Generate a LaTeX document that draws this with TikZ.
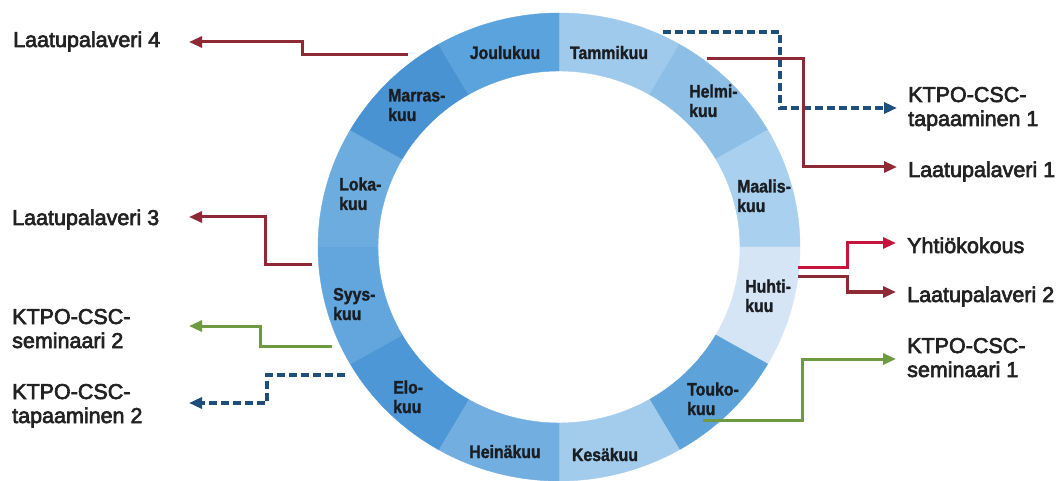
\documentclass[tikz,border=0pt]{standalone}
\usepackage{fontspec}
\setmainfont{Liberation Sans}
\newfontfamily\monthfont{Liberation Sans}[UprightFont=* Bold, FakeStretch=0.88, FakeBold=1.5]
\newfontfamily\labelfont{Liberation Sans}[FakeBold=3]
\usetikzlibrary{arrows.meta}

% segment colours, January first
\definecolor{m1}{HTML}{A0CAEB}
\definecolor{m2}{HTML}{8DBFE6}
\definecolor{m3}{HTML}{A9D0EE}
\definecolor{m4}{HTML}{D5E5F5}
\definecolor{m5}{HTML}{5EA2DA}
\definecolor{m6}{HTML}{A3CCEC}
\definecolor{m7}{HTML}{72AEE0}
\definecolor{m8}{HTML}{4D97D6}
\definecolor{m9}{HTML}{62A6DD}
\definecolor{m10}{HTML}{6DACDF}
\definecolor{m11}{HTML}{4A93D3}
\definecolor{m12}{HTML}{5BA3DC}
\definecolor{monthtext}{HTML}{1A1E22}
\definecolor{labeltext}{HTML}{222222}
\definecolor{darkred}{HTML}{8E2A35}
\definecolor{brightred}{HTML}{C8143C}
\definecolor{linkgreen}{HTML}{6E9A42}
\definecolor{linkblue}{HTML}{1E4E7A}

\tikzset{
  month/.style={font=\monthfont\fontsize{18}{19.5}\selectfont, text=monthtext, inner sep=0pt, align=left},
  evlabel/.style={font=\labelfont\fontsize{21.5}{24}\selectfont, text=labeltext, inner sep=0pt, align=left},
  link/.style={line width=3pt, -{Triangle[length=13pt,width=11pt]}},
  dashlink/.style={link, line width=3.4pt, dash pattern=on 8pt off 4pt},
}

\begin{document}
\begin{tikzpicture}[x=1pt, y=-1pt]
\useasboundingbox (0,0) rectangle (1058,481);

% the year ring, twelve 30-degree segments clockwise from the top
\begin{scope}[shift={(559,247)}, yscale=-1]
  \foreach \i in {1,...,12} {
    \pgfmathsetmacro{\a}{120-30*\i}
    \pgfmathsetmacro{\b}{90-30*\i}
    \fill[m\i, draw=m\i, line width=0.4pt]
      (\a:241 and 234) arc[start angle=\a, end angle=\b, x radius=241, y radius=234]
      -- (\b:181 and 176) arc[start angle=\b, end angle=\a, x radius=181, y radius=176]
      -- cycle;
  }
\end{scope}

% month names (two-line names are placed by the baseline of their last line)
\node[month, anchor=base] (jan) at (609,59) {Tammikuu};
\node[month, anchor=base west] (feb) at (689,117) {Helmi-\\kuu};
\node[month, anchor=base west] (mar) at (737,212) {Maalis-\\kuu};
\node[month, anchor=base west] (apr) at (745,312) {Huhti-\\kuu};
\node[month, anchor=base west] (may) at (687,415) {Touko-\\kuu};
\node[month, anchor=base] (jun) at (605,461) {Kesäkuu};
\node[month, anchor=base] (jul) at (505,458) {Heinäkuu};
\node[month, anchor=base west] (aug) at (393,413) {Elo-\\kuu};
\node[month, anchor=base west] (sep) at (333,320) {Syys-\\kuu};
\node[month, anchor=base west] (oct) at (339,210) {Loka-\\kuu};
\node[month, anchor=base west] (nov) at (388,121) {Marras-\\kuu};
\node[month, anchor=base] (dec) at (505,59) {Joulukuu};

% events
\node[evlabel, anchor=base west] (tap1) at (908,126) {KTPO-CSC-\\tapaaminen 1};
\node[evlabel, anchor=base west] (lp1) at (908,177) {Laatupalaveri 1};
\node[evlabel, anchor=base west] (yht) at (907,253) {Yhtiökokous};
\node[evlabel, anchor=base west] (lp2) at (907,302) {Laatupalaveri 2};
\node[evlabel, anchor=base west] (sem1) at (907,377) {KTPO-CSC-\\seminaari 1};
\node[evlabel, anchor=base west] (lp4) at (13,47) {Laatupalaveri 4};
\node[evlabel, anchor=base west] (lp3) at (12,225) {Laatupalaveri 3};
\node[evlabel, anchor=base west] (sem2) at (12,348) {KTPO-CSC-\\seminaari 2};
\node[evlabel, anchor=base west] (tap2) at (12,423) {KTPO-CSC-\\tapaaminen 2};

% connector ends at the ring
\coordinate (sJan) at (663,32);
\coordinate (sFeb) at (707,59);
\coordinate (sAprA) at (798,268);
\coordinate (sAprB) at (798,277);
\coordinate (sMay) at (703,420);
\coordinate (sDec) at (408,55);
\coordinate (sOct) at (312,265);
\coordinate (sSep) at (332,346);
\coordinate (sAug) at (345,375);
% arrow points on the left
\coordinate (tLp4) at (189,42);
\coordinate (tLp3) at (189,217);
\coordinate (tSem2) at (189,326);
\coordinate (tTap2) at (189,403);

% connectors to the right
\draw[dashlink, linkblue] (sJan) -- (780,32) |- ([xshift=-11pt,yshift=18pt]tap1.base west);
\draw[link, darkred] (sFeb) -- (803,59) |- ([xshift=-11pt,yshift=10pt]lp1.base west);
\draw[link, brightred] (sAprA) -- (847,268) |- ([xshift=-11pt,yshift=10pt]yht.base west);
\draw[link, darkred] (sAprB) -- (847,277) |- ([xshift=-11pt,yshift=10pt]lp2.base west);
\draw[link, linkgreen] (sMay) -- (802,420) |- ([xshift=-11pt,yshift=18pt]sem1.base west);

% connectors to the left
\draw[link, darkred] (sDec) -- (302,55) |- (tLp4);
\draw[link, darkred] (sOct) -- (265,265) |- (tLp3);
\draw[link, linkgreen] (sSep) -- (260,346) |- (tSem2);
\draw[dashlink, linkblue] (sAug) -- (267,375) |- (tTap2);
\end{tikzpicture}
\end{document}
